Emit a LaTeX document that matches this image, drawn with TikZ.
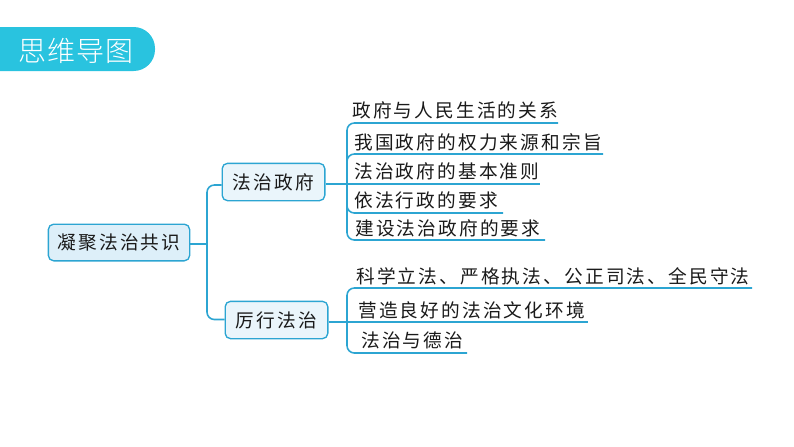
\documentclass[tikz,border=0pt]{standalone}
\usepackage{fontspec}
\newfontfamily\cjk[LetterSpace=11.5]{Noto Sans CJK SC}
\newfontfamily\cjkhead[LetterSpace=4]{Noto Sans CJK SC Light}
\definecolor{headbg}{HTML}{29C3DF}
\definecolor{linkc}{HTML}{2CA5D2}
\definecolor{rootbg}{HTML}{DDEFF9}
\definecolor{subbg}{HTML}{EAF5FB}
\definecolor{inkc}{HTML}{1A1A1A}
\tikzset{
  x=0.75pt,y=-0.75pt,
  link/.style={draw=linkc,line width=1.2pt,rounded corners=5.5pt},
  boxbase/.style={draw=linkc,line width=1pt,rounded corners=4pt,inner sep=0pt,
    text=inkc,font=\cjk\fontsize{14}{14}\selectfont},
  rootbox/.style={boxbase,fill=rootbg,minimum width=106pt,minimum height=27.5pt},
  subbox/.style={boxbase,fill=subbg,minimum width=77pt,minimum height=28pt},
  leaf/.style={anchor=west,inner sep=0pt,text=inkc,font=\cjk\fontsize{14}{14}\selectfont},
}
\begin{document}
\begin{tikzpicture}
\useasboundingbox (0,0) rectangle (794,447);
% header
\fill[headbg,rounded corners=16pt] (-40,27) rectangle (155,71);
\node[inner sep=0pt,anchor=west,text=white,font=\cjkhead\fontsize{21}{21}\selectfont] (head) at (18,51) {思维导图};
% main boxes
\node[rootbox] (root) at (119,242.5) {凝聚法治共识};
\node[subbox] (gov) at (273.5,182) {法治政府};
\node[subbox] (law) at (276.5,320) {厉行法治};
% first-level connectors
\coordinate (hub) at (207,244);
\coordinate (govin) at (gov.west |- 0,185);
\coordinate (lawin) at (law.west |- 0,319.5);
\draw[link] (root.east |- hub) -- (hub);
\draw[link] (govin) -| (hub) |- (lawin);
% leaves of gov
\node[leaf] (g1) at (352,110) {政府与人民生活的关系};
\node[leaf] (g2) at (354,142) {我国政府的权力来源和宗旨};
\node[leaf] (g3) at (354,171) {法治政府的基本准则};
\node[leaf] (g4) at (354,200) {依法行政的要求};
\node[leaf] (g5) at (355,228) {建设法治政府的要求};
\coordinate (g1e) at (558,123);
\coordinate (g2e) at (603,154);
\coordinate (g3e) at (540,183.8);
\coordinate (g4e) at (503,213);
\coordinate (g5e) at (545,240);
\coordinate (gt) at (347,183.8);
\draw[link] (g1e) -| (gt) |- (g5e);
\draw[link] (g2e) -| (gt);
\draw[link] (g4e) -| (gt);
\draw[link] (gov.east |- gt) -- (g3e);
% leaves of law
\node[leaf] (l1) at (356,276) {科学立法、严格执法、公正司法、全民守法};
\node[leaf] (l2) at (358,310) {营造良好的法治文化环境};
\node[leaf] (l3) at (361,340) {法治与德治};
\coordinate (l1e) at (752,288);
\coordinate (l2e) at (588,321.8);
\coordinate (l3e) at (467,353);
\coordinate (lt) at (347,321.8);
\draw[link] (l1e) -| (lt) |- (l3e);
\draw[link] (law.east |- lt) -- (l2e);
\end{tikzpicture}
\end{document}
